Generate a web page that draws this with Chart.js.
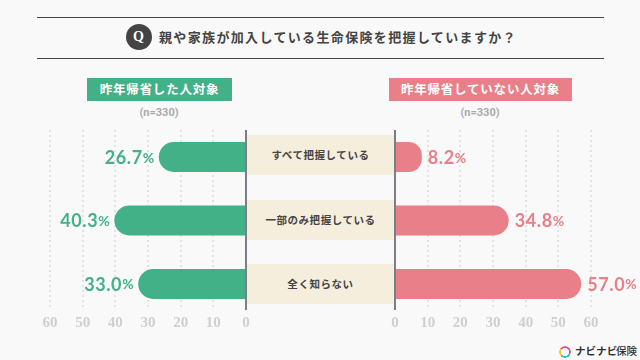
<!doctype html>
<html lang="ja">
  <head>
    <meta charset="utf-8">
    <title>親や家族が加入している生命保険を把握していますか？</title>
    <script src="https://cdn.jsdelivr.net/npm/chart.js"></script>
    <style>
      html, body { margin: 0; padding: 0; }
      body {
        position: relative; width: 640px; height: 360px; overflow: hidden;
        background: #f9f9f9; color: #444;
        font-family: "Noto Sans CJK JP", sans-serif;
      }
      .abs { position: absolute; white-space: nowrap; }
      .rule { left: 37px; width: 567px; height: 1px; border-top: 1.5px solid #444; }
      #q {
        left: 125.5px; top: 24px; width: 26px; height: 26px; border-radius: 50%;
        background: #444; color: #fff; text-align: center;
        font: bold 14px/25px "Liberation Serif", serif;
      }
      #title { left: 159px; top: 27px; font-size: 13px; line-height: 20px; font-weight: 700; letter-spacing: 1.35px; }
      .badge {
        top: 78px; height: 23px; line-height: 22px; text-align: center; color: #fff;
        font-size: 12.5px; font-weight: 700; letter-spacing: 0.8px;
      }
      .n { top: 106px; width: 80px; text-align: center; font: bold 11px/14px "Roboto", sans-serif; color: #aaa; }
      .cat {
        left: 247px; width: 147px; height: 40px; line-height: 39px; background: #f6eedd;
        text-align: center; font-size: 10.5px; font-weight: 700; letter-spacing: 0.55px;
      }
      canvas { position: absolute; }
      #logoRing {
        left: 559px; top: 346px; width: 8px; height: 8px; border-radius: 50%;
        border: 2.5px solid transparent;
        background: conic-gradient(#e8477c 0 28%, #29b6c6 28% 62%, #f3c21f 62% 85%, #e8477c 85% 100%) border-box;
        -webkit-mask: radial-gradient(circle, transparent 3.9px, #000 4.4px);
      }
      .logoText { top: 343px; font-size: 10.5px; line-height: 16px; color: #333; letter-spacing: 0.1px; }
    </style>
  </head>

  <body>
    <div class="abs rule" style="top:17px"></div>
    <div class="abs rule" style="top:58px"></div>
    <div class="abs" id="q">Q</div>
    <div class="abs" id="title">親や家族が加入している生命保険を把握していますか？</div>

    <div class="abs badge" style="left:87px;width:145px;background:#43b188">昨年帰省した人対象</div>
    <div class="abs badge" style="left:389px;width:183px;background:#e97f88">昨年帰省していない人対象</div>
    <div class="abs n" style="left:119px">(n=330)</div>
    <div class="abs n" style="left:440px">(n=330)</div>

    <div id="cats"></div>

    <canvas id="leftChart" width="246" height="210" style="left:20px;top:130px"></canvas>
    <canvas id="rightChart" width="265" height="210" style="left:375px;top:130px"></canvas>

    <div class="abs" id="logoRing"></div>
    <div class="abs logoText" style="left:575px;font-weight:700">ナビナビ</div>
    <div class="abs logoText" style="left:616px;font-weight:500">保険</div>

    <script>
      const categories = ['すべて把握している', '一部のみ把握している', '全く知らない'];
      const homeVisitValues = [26.7, 40.3, 33.0];
      const noVisitValues = [8.2, 34.8, 57.0];
      const axisMax = 60;
      const axisStep = 10;

      const green = '#43b188';
      const pink = '#e97f88';

      // beige label cells in the gap between the two charts
      const catTops = [135, 200, 264];
      categories.forEach(function (name, i) {
        const el = document.createElement('div');
        el.className = 'abs cat';
        el.style.top = catTops[i] + 'px';
        el.textContent = name;
        document.getElementById('cats').appendChild(el);
      });

      // "26.7%" next to the end of each bar
      const valueLabels = {
        id: 'valueLabels',
        afterDatasetsDraw(chart, args, opts) {
          const ctx = chart.ctx;
          const values = chart.data.datasets[0].data;
          chart.getDatasetMeta(0).data.forEach(function (bar, i) {
            const num = values[i].x.toFixed(1);
            ctx.save();
            ctx.fillStyle = opts.color;
            ctx.textBaseline = 'middle';
            ctx.letterSpacing = '0.6px';
            ctx.font = '700 18px Lato';
            const numW = ctx.measureText(num).width;
            ctx.font = '700 14px Lato';
            const pctW = ctx.measureText('%').width;
            const left = opts.side === 'left' ? bar.x - 4 - numW - pctW : bar.x + 6;
            ctx.font = '700 18px Lato';
            ctx.fillText(num, left, bar.y + 1);
            ctx.font = '700 14px Lato';
            ctx.fillText('%', left + numW, bar.y + 1);
            ctx.restore();
          });
        }
      };

      function makeChart(id, values, color, side) {
        return new Chart(document.getElementById(id), {
          type: 'bar',
          plugins: [valueLabels],
          data: {
            datasets: [{
              label: side,
              data: values.map(function (v, i) { return { x: v, y: i }; }),
              backgroundColor: color,
              barThickness: 30,
              borderRadius: 15,
              inflateAmount: 0
            }]
          },
          options: {
            indexAxis: 'y',
            responsive: false,
            animation: false,
            layout: { padding: { left: side === 'left' ? 30 : 20, right: side === 'left' ? 20 : 49, top: 0, bottom: 0 } },
            plugins: {
              legend: { display: false },
              tooltip: { enabled: false },
              valueLabels: { color: color, side: side }
            },
            scales: {
              x: {
                type: 'linear',
                reverse: side === 'left',
                min: 0,
                max: axisMax,
                afterFit(scale) { scale.height = 31; },
                grid: { color: '#e2e2e2', lineWidth: 2, drawTicks: false },
                border: { display: false, dash: [2, 3] },
                ticks: {
                  stepSize: axisStep,
                  maxRotation: 0,
                  padding: 5,
                  color: '#cfcfcf',
                  font: { family: '"Liberation Sans Narrow"', size: 15, weight: 'bold' }
                }
              },
              y: {
                type: 'linear',
                reverse: true,
                offset: false,
                min: -0.425,
                max: 2.394,
                position: side === 'left' ? 'right' : 'left',
                grid: { display: false, drawTicks: false },
                border: { display: true, color: '#7d7d88', width: 2 },
                ticks: { display: false }
              }
            }
          }
        });
      }

      makeChart('leftChart', homeVisitValues, green, 'left');
      makeChart('rightChart', noVisitValues, pink, 'right');
    </script>
  </body>
</html>
